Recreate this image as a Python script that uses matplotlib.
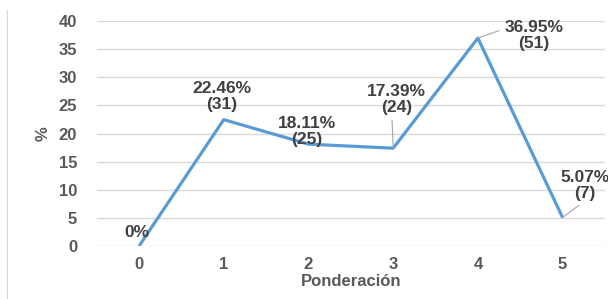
import matplotlib
matplotlib.use("Agg")
import matplotlib.pyplot as plt
from matplotlib.lines import Line2D

# data
x_vals = [0, 1, 2, 3, 4, 5]
y_pct = [0, 22.46, 18.11, 17.39, 36.95, 5.07]
counts = [None, 31, 25, 24, 51, 7]
# label centres (data units)
lab_x = [-0.02, 0.98, 1.98, 3.04, 4.66, 5.26]
lab_y = [2.5, 26.6, 20.4, 26.1, 37.4, 10.8]
leader = [False, False, False, True, True, True]
# where the leader line leaves the label box
rel = [None, None, None, (0.42, 0.0), (0.0, 0.72), (0.5, 0.0)]

plt.rcParams['font.family'] = ['Liberation Sans', 'DejaVu Sans']
plt.rcParams['font.weight'] = 'bold'

fig = plt.figure(figsize=(6.08, 2.99), dpi=100)
ax = fig.add_axes([0.159, 0.177, 0.836, 0.753])

ax.plot(x_vals, y_pct, color="#5b9bd5", lw=2.3, solid_capstyle="butt", zorder=3)

for i in range(len(x_vals)):
    if counts[i] is None:
        txt = "0%"
    else:
        txt = "%.2f%%\n(%d)" % (y_pct[i], counts[i])
    if leader[i]:
        ax.annotate(txt, xy=(x_vals[i], y_pct[i]), xytext=(lab_x[i], lab_y[i]),
                    ha="center", va="center", fontsize=12.5, color="#404040",
                    linespacing=1.1, fontweight="bold",
                    arrowprops=dict(arrowstyle="-", color="#a6a6a6", lw=0.8,
                                    relpos=rel[i], shrinkA=2, shrinkB=0))
    else:
        ax.text(lab_x[i], lab_y[i], txt, ha="center", va="center", fontsize=12.5,
                color="#404040", linespacing=1.1, fontweight="bold")

ax.set_xlim(-0.5, 5.5)
ax.set_ylim(0, 40)
ax.set_xticks(x_vals)
ax.set_yticks(range(0, 41, 5))
ax.grid(axis="y", color="#d9d9d9", lw=1)
ax.set_axisbelow(True)
for s in ax.spines.values():
    s.set_visible(False)
ax.tick_params(axis="both", length=0, labelsize=12, labelcolor="#595959", pad=8)
ax.tick_params(axis="y", pad=14)
ax.set_xlabel("Ponderación", fontsize=12, color="#595959", fontweight="bold", labelpad=1)
ax.set_ylabel("%", fontsize=12, color="#595959", fontweight="bold", labelpad=6)

fig.add_artist(Line2D([0.012, 0.012], [0, 0.965], color="#d9d9d9", lw=0.8,
                      transform=fig.transFigure))

fig.savefig("out.png", dpi=100)
